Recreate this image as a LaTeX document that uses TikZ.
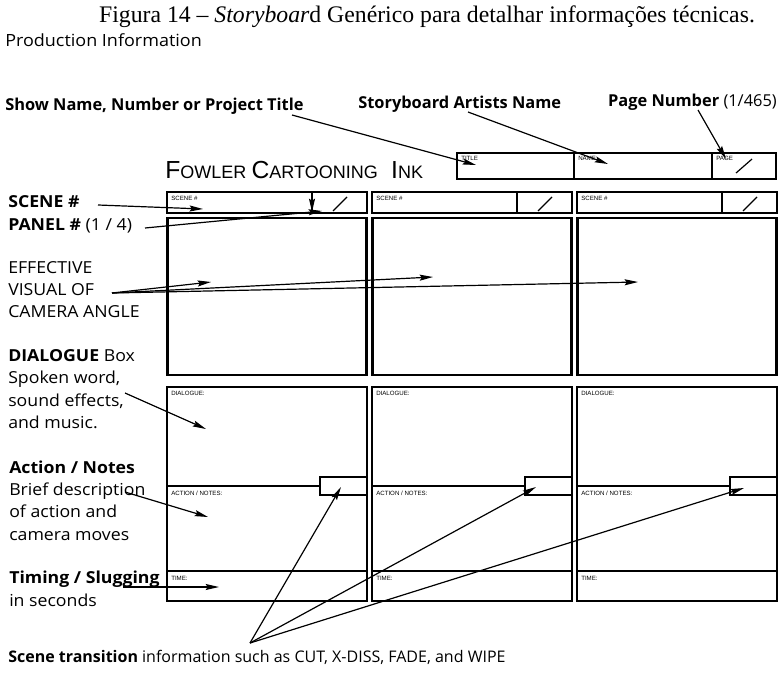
\documentclass[tikz,border=0pt]{standalone}
\usepackage{fontspec}
\setmainfont{Liberation Serif}
\newfontfamily\comic[FakeStretch=1.07]{Open Sans}
\newfontfamily\comicn{Open Sans}
\newfontfamily\arial{Liberation Sans}
\usetikzlibrary{arrows.meta}
\tikzset{
  lbl/.style={anchor=base west, inner sep=0pt, font=\comic\fontsize{12.4}{14}\selectfont},
  toplbl/.style={anchor=base west, inner sep=0pt, font=\comicn\fontsize{12.3}{14}\selectfont},
  tinylbl/.style={anchor=north west, inner sep=0pt, font=\arial\fontsize{4.6}{5}\selectfont},
  arr/.style={line width=0.9pt, -{Stealth[length=10pt,width=4.5pt,inset=1.5pt]}},
  plainline/.style={line width=0.9pt},
  boxline/.style={line width=1.1pt},
  heavybox/.style={line width=1.9pt},
}
\begin{document}
\begin{tikzpicture}[x=0.75pt,y=-0.75pt]
\useasboundingbox (0,0) rectangle (780,678);

% caption and headings
\node[anchor=base, inner sep=0pt, font=\fontsize{17.8}{19}\selectfont] (cap) at (427,22)
  {Figura 14 -- \textit{Storyboar}d Genérico para detalhar informações técnicas.};
\node[anchor=base west, inner sep=0pt, font=\comic\fontsize{12.6}{14}\selectfont] (prod) at (5,46) {Production Information};

\node[toplbl] (show) at (5,110) {\bfseries Show Name, Number or Project Title};
\node[toplbl] (artist) at (358,108) {\bfseries Storyboard Artists Name};
\node[toplbl, anchor=base east] (page) at (777,106) {\bfseries Page Number \mdseries(1/465)};

% brand
\node[anchor=base west, inner sep=0pt, font=\arial] (brand) at (165,178)
  {{\fontsize{18.5}{20}\selectfont F}{\fontsize{13.5}{15}\selectfont OWLER}\hspace{4pt}{\fontsize{18.5}{20}\selectfont C}{\fontsize{13.5}{15}\selectfont ARTOONING}\hspace{10pt}{\fontsize{18.5}{20}\selectfont I}{\fontsize{13.5}{15}\selectfont NK}};

% title block
\draw[boxline] (457,153) rectangle (776,179);
\draw[boxline] (574,153) -- (574,179);
\draw[boxline] (712,153) -- (712,179);
\draw[plainline] (736,173) -- (752,159);
\node[tinylbl] (ttitle) at (461,156) {TITLE};
\node[tinylbl] (tname) at (578,156) {NAME};
\node[tinylbl] (tpage) at (716,156) {PAGE};

% panels
\foreach \L in {167,372,577}{
  \draw[boxline] (\L,192) rectangle ({\L+200},213);
  \draw[boxline] ({\L+145},192) -- ({\L+145},213);
  \draw[plainline] ({\L+166},211) -- ({\L+180},197);
  \node[tinylbl] at ({\L+4},196) {SCENE \#};
  \draw[heavybox] ({\L+0.5},218) rectangle ({\L+199.5},375);
  \draw[boxline] (\L,387) rectangle ({\L+200},601);
  \draw[boxline] (\L,486) -- ({\L+153},486);
  \draw[boxline] ({\L+153},477) rectangle ({\L+200},495);
  \draw[boxline] (\L,571) -- ({\L+200},571);
  \node[tinylbl] at ({\L+4},391) {DIALOGUE:};
  \node[tinylbl] at ({\L+4},491) {ACTION / NOTES:};
  \node[tinylbl] at ({\L+4},576) {TIME:};
}

% left labels
\node[lbl] (scene) at (8,207) {\bfseries SCENE \#};
\node[lbl] (panel) at (8,230) {\bfseries PANEL \# \mdseries(1 / 4)};
\node[lbl] (eff1) at (8,273) {EFFECTIVE};
\node[lbl] (eff2) at (8,295) {VISUAL OF};
\node[lbl] (eff3) at (8,317) {CAMERA ANGLE};
\node[lbl] (dia1) at (8,361) {\bfseries DIALOGUE \mdseries Box};
\node[lbl] (dia2) at (8,383) {Spoken word,};
\node[lbl] (dia3) at (8,406) {sound effects,};
\node[lbl] (dia4) at (8,428) {and music.};
\node[lbl] (act1) at (9,473) {\bfseries Action / Notes};
\node[lbl] (act2) at (9,495) {Brief description};
\node[lbl] (act3) at (9,517) {of action and};
\node[lbl] (act4) at (9,540) {camera moves};
\node[lbl] (tim1) at (9,583) {\bfseries Timing / Slugging};
\node[lbl] (tim2) at (9,606) {in seconds};
\node[toplbl, font=\comicn\fontsize{12}{14}\selectfont] (trans) at (8,662) {\bfseries Scene transition \mdseries information such as CUT, X-DISS, FADE, and WIPE};

% arrow ends
\coordinate (showS) at (292,115);   \coordinate (showT) at (476,165);
\coordinate (artS) at (468,112);    \coordinate (artT) at (608,164);
\coordinate (pageS) at (698,110);   \coordinate (pageT) at (726,159);
\coordinate (sceneS) at (98,205);   \coordinate (sceneT) at (203,209);
\coordinate (panelS) at (145,228);  \coordinate (panelT) at (322,211);
\coordinate (divS) at (312,193);    \coordinate (divT) at (312,212);
\coordinate (visS) at (112,293);
\coordinate (vis1) at (211,282);    \coordinate (vis2) at (433,277);   \coordinate (vis3) at (638,282);
\coordinate (diaS) at (125,393);    \coordinate (diaT) at (206,429);
\coordinate (actS) at (125,492);    \coordinate (actT) at (208,517);
\coordinate (timS) at (123,587);    \coordinate (timT) at (219,587);
\coordinate (trS) at (250,643);
\coordinate (tr1) at (341,487);     \coordinate (tr2) at (536,487);    \coordinate (tr3) at (744,488);

\draw[arr] (showS) -- (showT);
\draw[arr] (artS) -- (artT);
\draw[arr] (pageS) -- (pageT);
\draw[arr] (sceneS) -- (sceneT);
\draw[arr] (panelS) -- (panelT);
\draw[arr] (divS) -- (divT);
\draw[arr] (visS) -- (vis1);
\draw[arr] (visS) -- (vis2);
\draw[arr] (visS) -- (vis3);
\draw[arr] (diaS) -- (diaT);
\draw[arr] (actS) -- (actT);
\draw[arr] (timS) -- (timT);
\draw[arr] (trS) -- (tr1);
\draw[arr] (trS) -- (tr2);
\draw[arr] (trS) -- (tr3);
\end{tikzpicture}
\end{document}
